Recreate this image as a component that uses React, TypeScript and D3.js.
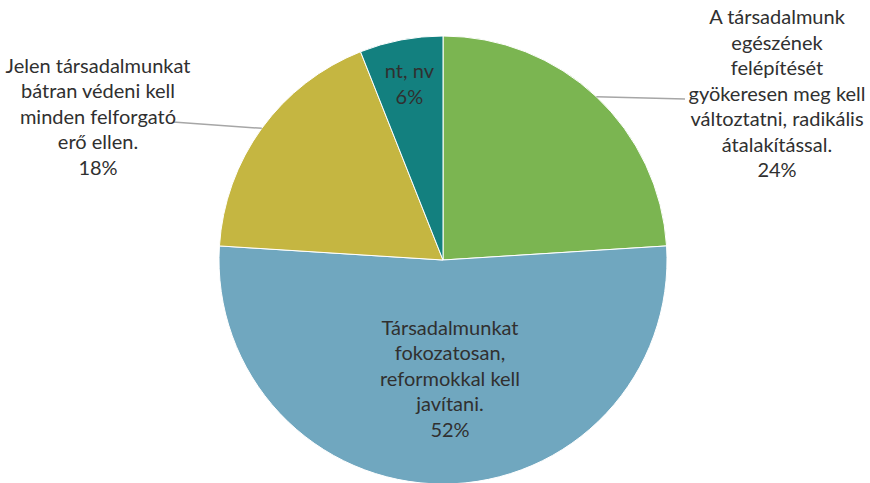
import React from "react";
import * as d3 from "d3";

const categories = [
  "A társadalmunk egészének felépítését gyökeresen meg kell változtatni, radikális átalakítással.",
  "Társadalmunkat fokozatosan, reformokkal kell javítani.",
  "Jelen társadalmunkat bátran védeni kell minden felforgató erő ellen.",
  "nt, nv",
];
const values = [24, 52, 18, 6];
const labelLines = [
  ["A társadalmunk", "egészének", "felépítését", "gyökeresen meg kell", "változtatni, radikális", "átalakítással.", "24%"],
  ["Társadalmunkat", "fokozatosan,", "reformokkal kell", "javítani.", "52%"],
  ["Jelen társadalmunkat", "bátran védeni kell", "minden felforgató", "erő ellen.", "18%"],
  ["nt, nv", "6%"],
];
const colors = ["#7BB551", "#70A7BF", "#C5B641", "#13807F"];

const W = 870;
const H = 483;
const cx = 443;
const cy = 260;
const R = 224;
const LINE = 25.5;
const FONT = "Lato";

// label placement: inside labels at radial fraction; outside labels at fixed block centres
type Place = { inside: boolean; k?: number; x?: number; y?: number; lineEnd?: [number, number] };
const places: Place[] = [
  { inside: false, x: 777, y: 93.5, lineEnd: [685, 99] },
  { inside: true, k: 0.53 },
  { inside: false, x: 98, y: 116.5, lineEnd: [173, 122] },
  { inside: true, k: 0.8 },
];

export default function App() {
  const pie = d3.pie<number>().sort(null).value((d) => d);
  const arcs = pie(values);
  const arcGen = d3.arc<d3.PieArcDatum<number>>().innerRadius(0).outerRadius(R);

  return (
    <svg width={W} height={H} style={{ position: "absolute", left: 0, top: 0 }}>
      <rect width={W} height={H} fill="#ffffff" />
      <g transform={`translate(${cx},${cy})`}>
        {arcs.map((a, i) => (
          <path key={categories[i]} d={arcGen(a) || ""} fill={colors[i]} stroke="#ffffff" strokeWidth={1} />
        ))}
      </g>
      {arcs.map((a, i) => {
        const p = places[i];
        const mid = (a.startAngle + a.endAngle) / 2;
        let bx: number, by: number;
        let leader: React.ReactNode = null;
        if (p.inside) {
          bx = cx + Math.sin(mid) * R * (p.k as number) + (i === 1 ? 7 : 0);
          by = cy - Math.cos(mid) * R * (p.k as number);
        } else {
          bx = p.x as number;
          by = p.y as number;
          const sx = cx + Math.sin(mid) * R;
          const sy = cy - Math.cos(mid) * R;
          leader = (
            <line x1={sx} y1={sy} x2={p.lineEnd![0]} y2={p.lineEnd![1]} stroke="#A6A6A6" strokeWidth={1.5} />
          );
        }
        const lines = labelLines[i];
        const top = by - ((lines.length - 1) * LINE) / 2;
        return (
          <g key={"l" + i}>
            {leader}
            <text textAnchor="middle" fontFamily={FONT} fontSize={20} fill="#303030">
              {lines.map((ln, j) => (
                <tspan key={j} x={bx} y={top + j * LINE + 7}>
                  {ln}
                </tspan>
              ))}
            </text>
          </g>
        );
      })}
    </svg>
  );
}
